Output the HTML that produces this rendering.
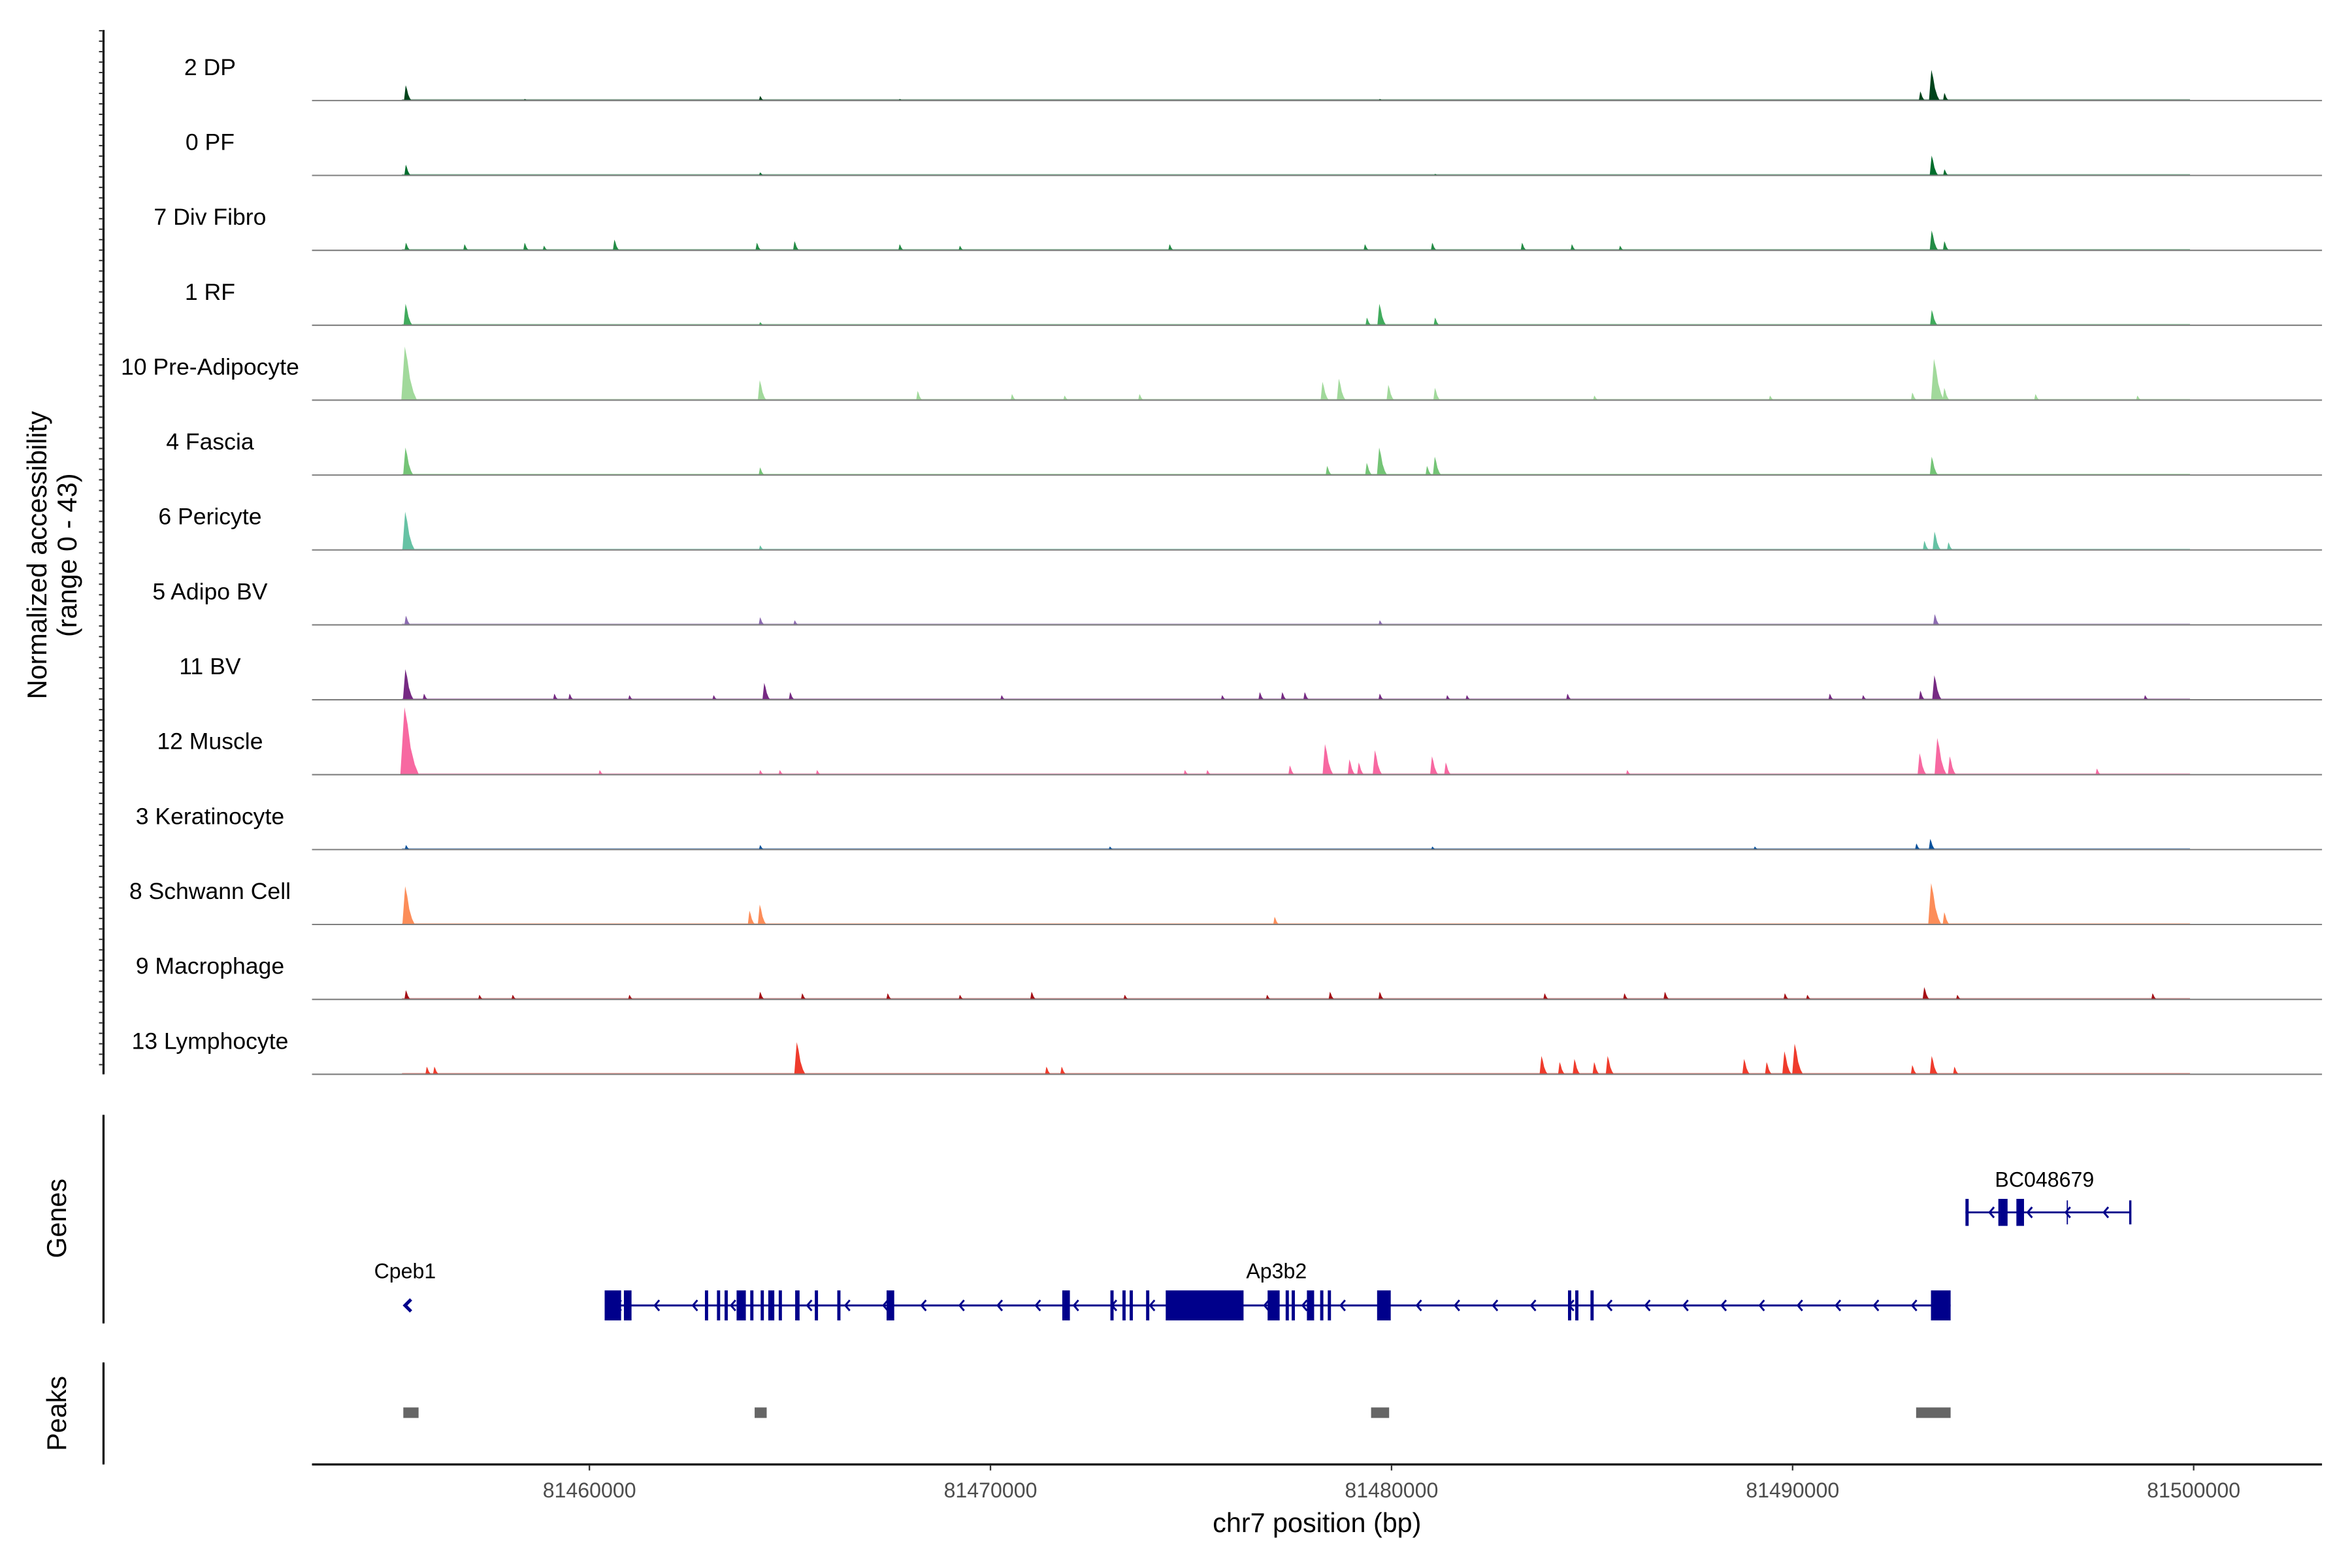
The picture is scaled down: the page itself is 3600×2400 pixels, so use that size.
<!DOCTYPE html>
<html><head><meta charset="utf-8">
<style>
html,body{margin:0;padding:0;background:#fff;}
svg{display:block;font-family:"Liberation Sans",sans-serif;}
</style></head>
<body>
<svg id="chart" width="3600" height="2400" viewBox="0 0 1568 1045" preserveAspectRatio="none" xmlns="http://www.w3.org/2000/svg">
<rect x="0" y="0" width="1568" height="1045" fill="#fff"/>
<g id="tracks"></g>
<g id="genes"></g>
<g id="peaks"></g>
<g id="axes"></g>
</svg>
<script>
const trackNames = ["2 DP","0 PF","7 Div Fibro","1 RF","10 Pre-Adipocyte","4 Fascia","6 Pericyte","5 Adipo BV","11 BV","12 Muscle","3 Keratinocyte","8 Schwann Cell","9 Macrophage","13 Lymphocyte"];
const trackColors = ["#00441b","#006d2c","#238b45","#41ab5d","#a1d99b","#74c476","#66c2a4","#8c6bb1","#762a83","#f768a1","#08519c","#fc8d59","#a50f15","#ef3b2c"];
// peaks per track: [position (kb), height (0-43)]
const trackDP = [[81455.44,10],[81464.27,3],[81458.4,1],[81467.75,1],[81479.72,1],[81493.49,20],[81493.2,6],[81493.8,5]];
const trackPF = [[81455.44,7],[81464.27,2],[81481.1,1],[81493.49,13],[81493.8,4]];
const trackDivFibro = [[81455.44,5],[81456.9,4],[81458.4,5],[81458.88,3],[81460.64,7],[81464.19,5],[81465.13,6],[81467.75,4],[81469.25,3],[81474.48,4],[81479.35,4],[81481.03,5],[81483.27,5],[81484.51,4],[81485.71,3],[81493.49,13],[81493.8,6]];
const trackRF = [[81455.44,14],[81464.27,2],[81479.72,14],[81479.4,5],[81481.1,5],[81493.49,10]];
const trackPreAdipo = [[81455.44,35],[81464.27,13],[81468.2,6],[81470.55,4],[81471.86,3],[81473.73,4],[81478.3,12],[81478.71,14],[81479.94,10],[81481.1,8],[81485.07,3],[81489.45,3],[81493.0,5],[81493.56,27],[81493.8,8],[81496.07,4],[81498.61,3]];
const trackFascia = [[81455.44,18],[81464.27,5],[81478.41,6],[81479.72,18],[81479.4,8],[81481.1,12],[81480.9,6],[81493.49,12]];
const trackPericyte = [[81455.44,25],[81464.27,3],[81493.56,12],[81493.3,6],[81493.9,5]];
const trackAdipoBV = [[81455.44,6],[81464.27,5],[81465.13,3],[81479.72,3],[81493.56,7]];
const trackBV = [[81455.44,20],[81455.89,4],[81459.14,4],[81459.52,4],[81461.01,3],[81463.11,3],[81464.38,11],[81465.02,5],[81470.29,3],[81475.79,3],[81476.73,5],[81477.29,5],[81477.85,5],[81479.72,4],[81481.4,3],[81481.89,3],[81484.4,4],[81490.94,4],[81491.77,3],[81493.56,16],[81493.2,6],[81498.8,3]];
const trackMuscle = [[81455.44,44],[81460.27,3],[81464.27,3],[81464.76,3],[81465.69,3],[81474.86,3],[81475.42,3],[81477.48,6],[81478.37,20],[81478.97,10],[81479.61,16],[81479.2,8],[81481.03,12],[81481.37,8],[81485.89,3],[81493.19,14],[81493.64,24],[81493.94,12],[81497.6,4]];
const trackKerat = [[81455.44,3],[81464.27,3],[81472.99,2],[81481.03,2],[81489.07,2],[81493.45,7],[81493.1,4]];
const trackSchwann = [[81455.44,25],[81464.01,9],[81464.27,13],[81477.1,5],[81493.49,27],[81493.8,8]];
const trackMacro = [[81455.44,6],[81457.27,3],[81458.1,3],[81461.01,3],[81464.27,5],[81465.32,4],[81467.45,4],[81469.25,3],[81471.04,5],[81473.36,3],[81476.91,3],[81478.48,5],[81479.72,5],[81483.83,4],[81485.82,4],[81486.83,5],[81489.82,4],[81490.38,3],[81493.3,8],[81494.12,3],[81498.99,4]];
const trackLympho = [[81455.96,5],[81456.15,5],[81465.2,21],[81471.41,5],[81471.79,5],[81483.76,12],[81484.21,8],[81484.58,10],[81485.07,8],[81485.41,12],[81488.81,10],[81489.37,8],[81489.82,15],[81490.08,20],[81493.0,6],[81493.49,12],[81494.05,5]];
const trackData = [trackDP,trackPF,trackDivFibro,trackRF,trackPreAdipo,trackFascia,trackPericyte,trackAdipoBV,trackBV,trackMuscle,trackKerat,trackSchwann,trackMacro,trackLympho];
// genes (kb)
const ap3b2Range = [81460.38, 81493.94];
const ap3b2Exons = [[81460.38,81460.79],[81460.86,81461.05],[81462.88,81462.96],[81463.18,81463.26],[81463.37,81463.45],[81463.67,81463.90],[81464.01,81464.09],[81464.27,81464.35],[81464.46,81464.61],[81464.72,81464.80],[81465.13,81465.24],[81465.62,81465.70],[81466.18,81466.26],[81467.41,81467.60],[81471.79,81471.98],[81472.99,81473.07],[81473.29,81473.37],[81473.47,81473.55],[81473.88,81473.96],[81474.37,81476.31],[81476.91,81477.21],[81477.36,81477.44],[81477.51,81477.59],[81477.89,81478.07],[81478.22,81478.30],[81478.41,81478.49],[81479.64,81479.98],[81484.40,81484.48],[81484.58,81484.66],[81484.96,81485.04],[81493.45,81493.94]];
const bcRange = [81494.31, 81498.42];
const bcExons = [[81494.31,81494.39],[81495.13,81495.36],[81495.58,81495.77]];
const peakRegions = [[81455.36,81455.74],[81464.12,81464.42],[81479.49,81479.94],[81493.08,81493.94]];
const xTicks = [81460000,81470000,81480000,81490000,81500000];

const NS="http://www.w3.org/2000/svg";
const X0=208,X1=1548,KB0=81453.083,KB1=81503.2;
function xs(kb){return X0+(kb-KB0)/(KB1-KB0)*(X1-X0);}
function mk(tag,attrs,parent){const e=document.createElementNS(NS,tag);for(const k in attrs)e.setAttribute(k,attrs[k]);parent.appendChild(e);return e;}
const tracksG=document.getElementById('tracks');
const base0=67,step=49.92,hScale=1.02;
trackNames.forEach((name,i)=>{
  const by=base0+i*step;
  const g=mk('g',{},tracksG);
  
  
  const t=mk('text',{x:140,y:by-17,'text-anchor':'middle','font-size':15.5,fill:'#000'},g);
  t.textContent=name;
  
  
  mk('line',{x1:268,x2:1460,y1:by-0.5,y2:by-0.5,stroke:trackColors[i],'stroke-width':0.8,opacity:0.5},g);
  trackData[i].forEach(p=>{
    const cx=xs(p[0]),h=p[1]*hScale,w=Math.max(2,1.6+p[1]*0.12);
    const path=mk('path',{d:`M${cx-w*0.6},${by} L${cx-w*0.4},${by-h*0.5} L${cx-w*0.2},${by-h} L${cx+w*0.1},${by-h*0.75} L${cx+w*0.4},${by-h*0.4} L${cx+w*0.8},${by-h*0.15} L${cx+w*1.2},${by} Z`,fill:trackColors[i]},g);
    
    
  });
  const bl=mk('line',{x1:X0,x2:X1,y1:by,y2:by,stroke:'#7f7f7f','stroke-width':0.9},g);
  
  
});
// Genes
const gG=document.getElementById('genes');
const navy='#00008b';
function intronArrows(a,b,y,g){
  for(let kb=a+0.3;kb<b-0.2;kb+=0.95){
    const x=xs(kb);
    mk('path',{d:`M${x+3},${y-3.5} L${x},${y} L${x+3},${y+3.5}`,stroke:navy,'stroke-width':1.3,fill:'none'},g);
  }
}
const ap=mk('g',{},gG);


mk('line',{x1:xs(ap3b2Range[0]),x2:xs(ap3b2Range[1]),y1:870,y2:870,stroke:navy,'stroke-width':1.3},ap);
intronArrows(ap3b2Range[0],ap3b2Range[1],870,ap);
ap3b2Exons.forEach(e=>{const r=mk('rect',{x:xs(e[0]),y:860,width:Math.max(1.6,xs(e[1])-xs(e[0])),height:20,fill:navy},ap);
  });
const apL=mk('text',{x:851,y:852,'text-anchor':'middle','font-size':14},ap);apL.textContent='Ap3b2';

const cp=mk('g',{},gG);


mk('path',{d:`M${xs(81455.44)+3},866 L${xs(81455.44)-1},870 L${xs(81455.44)+3},874`,stroke:navy,'stroke-width':2.2,fill:'none'},cp);
const cpL=mk('text',{x:270,y:852,'text-anchor':'middle','font-size':14},cp);cpL.textContent='Cpeb1';

const bc=mk('g',{},gG);


mk('line',{x1:xs(bcRange[0]),x2:xs(bcRange[1]),y1:808,y2:808,stroke:navy,'stroke-width':1.3},bc);
intronArrows(bcRange[0]+0.3,bcRange[1],808,bc);
bcExons.forEach(e=>{const r=mk('rect',{x:xs(e[0]),y:799,width:Math.max(1.6,xs(e[1])-xs(e[0])),height:18,fill:navy},bc);
  });
mk('line',{x1:xs(bcRange[1]),x2:xs(bcRange[1]),y1:800,y2:816,stroke:navy,'stroke-width':1.5},bc);
mk('line',{x1:xs(81496.85),x2:xs(81496.85),y1:800,y2:816,stroke:navy,'stroke-width':0.8},bc);
const bcL=mk('text',{x:1363,y:791,'text-anchor':'middle','font-size':14},bc);bcL.textContent='BC048679';

// Peaks
const pG=document.getElementById('peaks');
peakRegions.forEach(p=>{const r=mk('rect',{x:xs(p[0]),y:938,width:xs(p[1])-xs(p[0]),height:7,fill:'#666'},pG);
  });
// Axes
const aG=document.getElementById('axes');
function L(x1,y1,x2,y2,w,name){const l=mk('line',{x1,y1,x2,y2,stroke:'#000','stroke-width':w},aG);return l;}
L(69,20,69,716,1.4,'y-axis-line');
for(let y=20.5;y<=716;y+=6.96){mk('line',{x1:66,x2:69,y1:y,y2:y,stroke:'#333','stroke-width':0.9},aG);}
L(69,743,69,882,1.4,'genes-axis-line');
L(69,908,69,976,1.4,'peaks-axis-line');
L(X0,976,X1,976,1.4,'x-axis-line');
xTicks.forEach(v=>{const x=xs(v/1000);
  mk('line',{x1:x,x2:x,y1:976,y2:980,stroke:'#333','stroke-width':1},aG);
  const t=mk('text',{x:x,y:998,'text-anchor':'middle','font-size':14,fill:'#4d4d4d'},aG);t.textContent=String(v);
  });
function T(txt,x,y,size,rot,name){const t=mk('text',{x,y,'text-anchor':'middle','font-size':size,fill:'#000'},aG);
  if(rot)t.setAttribute('transform',`rotate(-90 ${x} ${y})`);t.textContent=txt;return t;}
T('chr7 position (bp)',878,1021,18,false,'x-axis-title');
T('Normalized accessibility',31,370,18,true,'y-axis-title');
T('(range 0 - 43)',51,370,18,true,'y-axis-subtitle');
T('Genes',44,812,18,true,'genes-panel-title');
T('Peaks',44,942,18,true,'peaks-panel-title');
</script>
</body></html>
